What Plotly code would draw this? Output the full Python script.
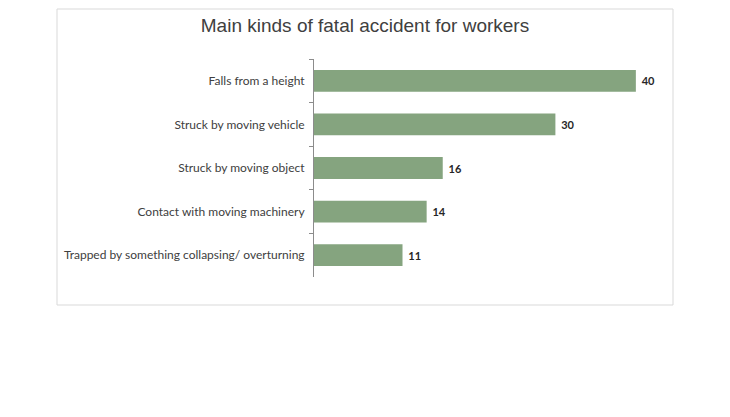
import plotly.graph_objects as go

# chart data
categories = ["Falls from a height", "Struck by moving vehicle", "Struck by moving object",
              "Contact with moving machinery", "Trapped by something collapsing/ overturning"]
deaths = [40, 30, 16, 14, 11]

title_text = "Main kinds of fatal accident for workers"

W, H = 730, 417
# page has an 8px body margin, so positions are taken 8px up/left of the picture
left, right, top, bottom = 306, 78, 51, 148

# helper: pixel to paper coords for the outer frame
def px(x):
    return (x - left) / (W - left - right)

def py(y):
    return 1 - (y - top) / (H - top - bottom)

fig = go.Figure(
    data=[go.Bar(
        y=categories, x=deaths, orientation="h",
        marker=dict(color="#85A47F", line=dict(width=0)),
        width=0.5,
        text=deaths, textposition="outside",
        texttemplate=" <b>%{text}</b>",
        textfont=dict(family="Lato", size=11, color="#262626"),
        cliponaxis=False,
    )]
)

fig.update_layout(
    width=W, height=H,
    margin=dict(l=left, r=right, t=top, b=bottom),
    paper_bgcolor="white", plot_bgcolor="white",
    showlegend=False,
    title=dict(text=title_text, x=357 / W, xanchor="center", y=1 - 17 / H, yanchor="middle",
               font=dict(family="Liberation Sans", size=19, color="#404040")),
    shapes=[dict(type="rect", xref="paper", yref="paper",
                 x0=px(49), x1=px(665), y0=py(297), y1=py(1),
                 line=dict(color="#D9D9D9", width=1), fillcolor="rgba(0,0,0,0)", layer="below")],
)

fig.update_xaxes(range=[0, 43], visible=False, showgrid=False, zeroline=False)
fig.update_yaxes(autorange="reversed", showgrid=False, zeroline=False,
                 showline=True, linecolor="#8C8C8C", linewidth=1,
                 ticks="outside", tickson="boundaries", ticklen=4, tickcolor="#8C8C8C",
                 ticklabelstandoff=6,
                 tickfont=dict(family="Lato", size=12, color="#404040"))

fig.write_html("out.html")
